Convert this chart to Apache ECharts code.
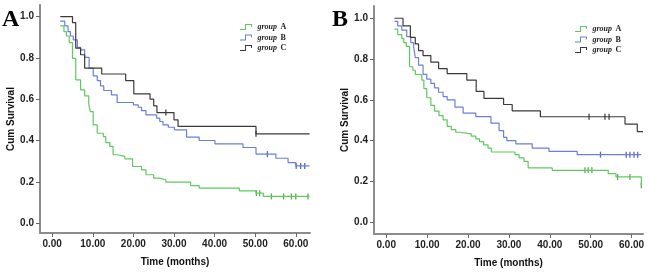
<!DOCTYPE html>
<html lang="en">
<head>
	<meta charset="UTF-8">
	<title>survival curves</title>
	<style type="text/css">
	body,html{
		width: 100%;
		height: 100%;
		margin: 0;
		padding: 0;
		background: #fff;
	}
	#container{
		width: 650px;
		height: 273px;
	}
	</style>
</head>
<body>
	<div id="container"></div>
<script type="text/javascript" src="https://cdn.jsdelivr.net/npm/echarts@6/dist/echarts.min.js"></script>
<script type="text/javascript">
	var groupNames = ['group A', 'group B', 'group C'];
	var xTicks = [0, 10, 20, 30, 40, 50, 60];
	var yTicks = [0, 0.2, 0.4, 0.6, 0.8, 1.0];

	// panel A : step times (months) and survival after each step
	var aTimeA = [2, 2.9, 3.5, 4.2, 5.0, 5.8, 7.0, 8.0, 9.0, 9.4, 10.1, 11.1, 12.6, 13.2, 14.2, 15.0, 16.0, 17.9, 19.8, 22.0, 23.1, 25.0, 26.4, 28.0, 34.1, 36.2, 46.1, 50.2, 52.0, 63.4];
	var aSurvA = [0.955, 0.927, 0.906, 0.874, 0.798, 0.693, 0.645, 0.616, 0.577, 0.54, 0.476, 0.435, 0.419, 0.39, 0.371, 0.331, 0.323, 0.311, 0.274, 0.258, 0.234, 0.218, 0.21, 0.198, 0.181, 0.169, 0.156, 0.145, 0.129, 0.129];
	var aCensA = [50.3, 51.1, 54.0, 57.0, 58.9, 60.0, 63.0];

	var aTimeB = [2, 3.1, 3.9, 4.5, 5.2, 6.2, 7.0, 8.0, 9.1, 10.1, 11.1, 11.9, 12.7, 14.6, 16.0, 20.0, 21.2, 22.0, 23.1, 25.7, 26.5, 27.3, 28.6, 30.1, 33.1, 36.2, 40.1, 47.0, 50.2, 55.1, 58.1, 60.0, 63.4];
	var aSurvB = [0.978, 0.955, 0.927, 0.906, 0.887, 0.851, 0.839, 0.802, 0.75, 0.713, 0.69, 0.664, 0.642, 0.621, 0.584, 0.572, 0.561, 0.545, 0.524, 0.508, 0.492, 0.476, 0.464, 0.451, 0.416, 0.40, 0.384, 0.366, 0.334, 0.314, 0.293, 0.277, 0.277];
	var aCensB = [53.0, 60.1, 61.2, 62.2];

	var aTimeC = [2, 5.0, 5.8, 7.0, 8.0, 12.2, 18.1, 20.1, 24.1, 25.0, 25.8, 30.0, 31.0, 50.2, 63.4];
	var aSurvC = [1.0, 0.971, 0.847, 0.815, 0.75, 0.722, 0.69, 0.626, 0.6, 0.568, 0.535, 0.5, 0.468, 0.432, 0.432];
	var aCensC = [28.0, 50.2];

	// panel B
	var bTimeA = [2, 2.8, 3.8, 4.3, 4.9, 5.7, 6.5, 7.1, 8.7, 9.2, 9.9, 10.9, 11.8, 12.9, 13.9, 14.9, 15.9, 17.0, 18.0, 20.8, 21.9, 22.8, 23.8, 24.9, 25.7, 31.5, 32.5, 33.7, 34.7, 40.6, 54.3, 56.2, 62.4];
	var bSurvA = [0.947, 0.92, 0.9, 0.88, 0.862, 0.762, 0.745, 0.724, 0.697, 0.655, 0.61, 0.573, 0.545, 0.522, 0.502, 0.47, 0.454, 0.441, 0.433, 0.422, 0.408, 0.395, 0.379, 0.363, 0.344, 0.331, 0.315, 0.298, 0.266, 0.254, 0.238, 0.222, 0.181];
	var bCensA = [48.6, 49.4, 50.3, 56.6, 59.6, 62.4];

	var bTimeB = [2, 2.8, 3.8, 5.0, 6.0, 6.7, 7.1, 7.9, 9.0, 9.9, 10.9, 11.8, 12.8, 13.9, 14.9, 16.8, 18.8, 21.9, 25.6, 27.6, 28.7, 29.5, 31.7, 35.7, 39.8, 46.7, 62.4];
	var bSurvB = [0.985, 0.963, 0.942, 0.91, 0.88, 0.859, 0.807, 0.77, 0.725, 0.701, 0.681, 0.659, 0.637, 0.616, 0.6, 0.564, 0.535, 0.518, 0.486, 0.449, 0.416, 0.40, 0.384, 0.363, 0.347, 0.331, 0.331];
	var bCensB = [52.4, 58.7, 59.6, 60.6, 61.5];

	var bTimeC = [2, 4.1, 5.9, 7.1, 7.9, 9.0, 10.9, 12.8, 14.9, 19.7, 22.0, 23.9, 28.7, 30.8, 37.7, 58.4, 61.4, 62.8];
	var bSurvC = [1.0, 0.963, 0.906, 0.874, 0.841, 0.817, 0.785, 0.753, 0.728, 0.697, 0.641, 0.607, 0.577, 0.546, 0.517, 0.481, 0.444, 0.444];
	var bCensC = [49.6, 53.5, 54.5];

	var lineColors = ['#5fc95f', '#6b7fd6', '#3a3a3a'];
	var censColors = ['#2a9d2a', '#3344aa', '#111111'];

	// survival level of a curve at time tc
	function survAt(ts, ss, tc) {
		var s = ss[0];
		for (var i = 0; i < ts.length; i++) {
			if (ts[i] <= tc) s = ss[i];
		}
		return s;
	}

	function curve(g, ts, ss, idx) {
		return {
			name: groupNames[g],
			type: 'line',
			step: 'end',
			xAxisIndex: idx,
			yAxisIndex: idx,
			showSymbol: false,
			color: lineColors[g],
			lineStyle: { width: 1.2, color: lineColors[g] },
			data: ts.map(function (t, i) { return [t, ss[i]]; })
		};
	}

	function censors(g, ts, ss, cs, idx) {
		return {
			name: groupNames[g] + ' censored',
			type: 'scatter',
			xAxisIndex: idx,
			yAxisIndex: idx,
			symbol: 'rect',
			symbolSize: [1.3, 6],
			itemStyle: { color: censColors[g] },
			data: cs.map(function (t) { return [t, survAt(ts, ss, t)]; })
		};
	}

	function xAxis(idx, mn, mx) {
		return {
			gridIndex: idx,
			type: 'value',
			min: mn,
			max: mx,
			splitLine: { show: false },
			axisLine: { onZero: false, lineStyle: { color: '#8c8c8c', width: 2 } },
			axisTick: { customValues: xTicks, length: 4, lineStyle: { color: '#666', width: 1 } },
			axisLabel: {
				customValues: xTicks,
				margin: 6,
				color: '#222',
				fontSize: 10,
				fontWeight: 'bold',
				fontFamily: 'Liberation Sans',
				formatter: function (v) { return v.toFixed(2); }
			},
			name: 'Time (months)',
			nameLocation: 'middle',
			nameGap: 24,
			nameTextStyle: { color: '#111', fontSize: 10, fontWeight: 'bold', fontFamily: 'Liberation Sans' }
		};
	}

	function yAxis(idx, mn, mx) {
		return {
			gridIndex: idx,
			type: 'value',
			min: mn,
			max: mx,
			splitLine: { show: false },
			axisLine: { show: true, onZero: false, lineStyle: { color: '#8c8c8c', width: 2 } },
			axisTick: { show: true, customValues: yTicks, length: 4, lineStyle: { color: '#666', width: 1 } },
			axisLabel: {
				customValues: yTicks,
				margin: 6,
				color: '#222',
				fontSize: 10,
				fontWeight: 'bold',
				fontFamily: 'Liberation Sans',
				formatter: function (v) { return v.toFixed(1); }
			},
			name: 'Cum Survival',
			nameLocation: 'middle',
			nameGap: 22,
			nameTextStyle: { color: '#111', fontSize: 10, fontWeight: 'bold', fontFamily: 'Liberation Sans' }
		};
	}

	// small step glyph like the SPSS legend
	var stepIcon = 'path://M0,5 L5,5 L5,0 L12,0 L12,3 L11,3 L11,1 L6,1 L6,6 L0,6 Z';

	function legend(left, top) {
		return {
			data: groupNames,
			orient: 'vertical',
			left: left,
			top: top,
			padding: 0,
			itemGap: -1.5,
			itemWidth: 13,
			itemHeight: 6,
			icon: stepIcon,
			selectedMode: false,
			formatter: function (name) {
				var p = name.split(' ');
				return '{i|' + p[0] + '} {b|' + p[1] + '}';
			},
			textStyle: {
				lineHeight: 10,
				rich: {
					i: { fontFamily: 'Liberation Serif', fontStyle: 'italic', fontWeight: 'bold', fontSize: 8, color: '#222', lineHeight: 10 },
					b: { fontFamily: 'Liberation Serif', fontWeight: 'bold', fontSize: 8, color: '#222', lineHeight: 10 }
				}
			}
		};
	}

	var option = {
		animation: false,
		backgroundColor: '#fff',
		graphic: [
			{ type: 'text', left: 2, top: 8, style: { text: 'A', font: 'bold 24px "Liberation Serif"', fill: '#000' } },
			{ type: 'text', left: 332, top: 8, style: { text: 'B', font: 'bold 24px "Liberation Serif"', fill: '#000' } }
		],
		legend: [legend(240, 21), legend(575, 23)],
		grid: [
			{ left: 40, top: 5, width: 270, height: 228 },
			{ left: 374, top: 6, width: 269, height: 230 }
		],
		xAxis: [xAxis(0, -3, 63.5), xAxis(1, -3, 62.8)],
		yAxis: [yAxis(0, -0.048, 1.056), yAxis(1, -0.058, 1.06)],
		series: [
			curve(0, aTimeA, aSurvA, 0),
			curve(1, aTimeB, aSurvB, 0),
			curve(2, aTimeC, aSurvC, 0),
			censors(0, aTimeA, aSurvA, aCensA, 0),
			censors(1, aTimeB, aSurvB, aCensB, 0),
			censors(2, aTimeC, aSurvC, aCensC, 0),
			curve(0, bTimeA, bSurvA, 1),
			curve(1, bTimeB, bSurvB, 1),
			curve(2, bTimeC, bSurvC, 1),
			censors(0, bTimeA, bSurvA, bCensA, 1),
			censors(1, bTimeB, bSurvB, bCensB, 1),
			censors(2, bTimeC, bSurvC, bCensC, 1)
		]
	};

	var container = echarts.init(document.getElementById('container'));
	container.setOption(option, true);
	window.addEventListener('resize', function () {
		container.resize();
	});
</script>
</body>
</html>
